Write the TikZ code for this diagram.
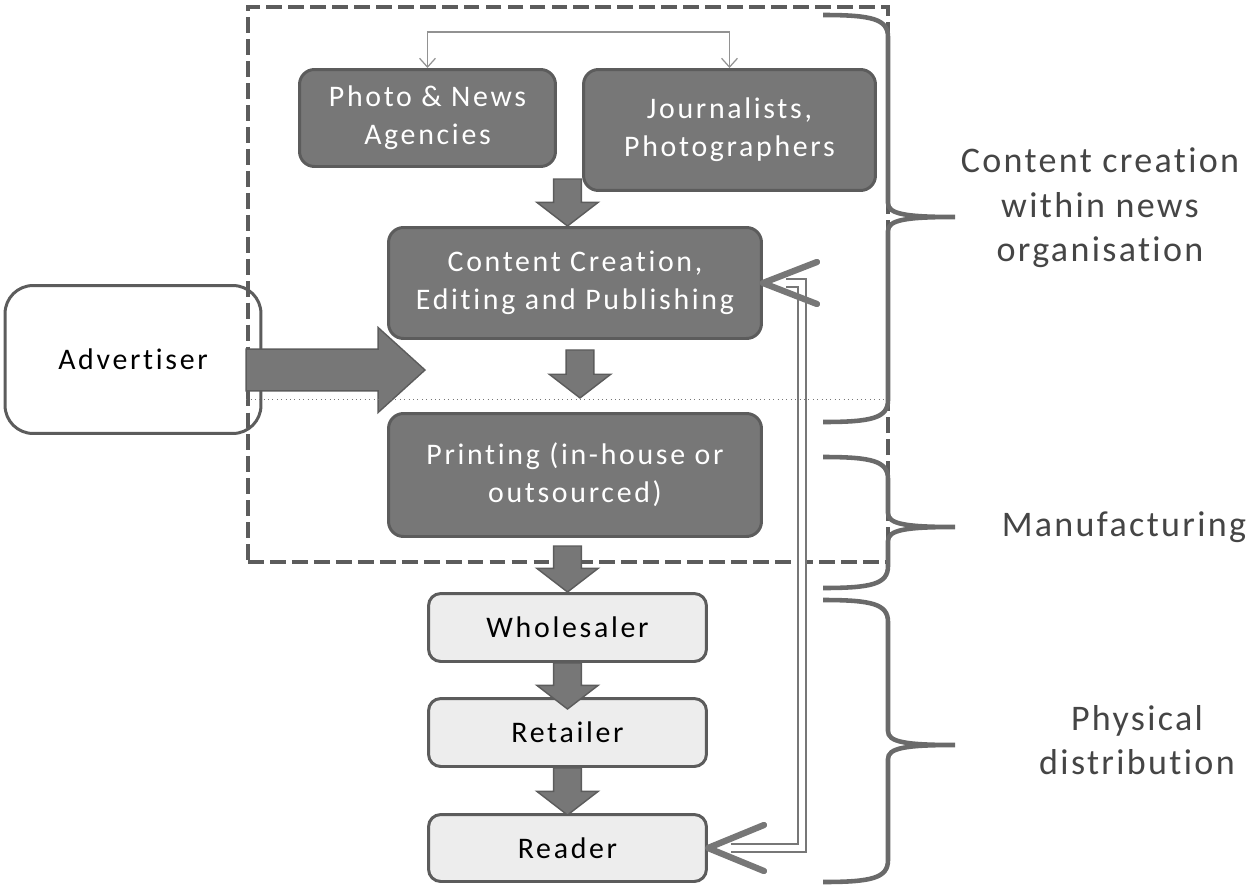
\documentclass[tikz,border=0pt]{standalone}
\usepackage{fontspec}
\usepackage{tikz}
\usetikzlibrary{arrows.meta}
\newfontfamily\boxfont[LetterSpace=9,Ligatures=NoCommon]{Carlito}
\newfontfamily\sidefont[LetterSpace=6.5,Ligatures=NoCommon]{Carlito}
\definecolor{boxdark}{HTML}{777777}
\definecolor{edgedark}{HTML}{5C5C5C}
\definecolor{boxlight}{HTML}{EDEDED}
\definecolor{linegray}{HTML}{6A6A6A}
\definecolor{sidetext}{HTML}{454545}
\tikzset{
  darkbox/.style={draw=edgedark, fill=boxdark, line width=1.7pt, rounded corners=8.5pt,
    text=white, align=center, inner sep=0pt, font=\boxfont\fontsize{17}{21.5}\selectfont},
  lightbox/.style={draw=edgedark, fill=boxlight, line width=1.7pt, rounded corners=7pt,
    align=center, inner sep=0pt, font=\boxfont\fontsize{17}{21.5}\selectfont},
  adbox/.style={lightbox, fill=white, rounded corners=16pt},
  framebox/.style={draw=edgedark, line width=2.2pt, dash pattern=on 9pt off 3.5pt, inner sep=0pt},
  fatarrow/.style={draw=edgedark, fill=boxdark, line width=0.8pt, line join=miter},
  thinarrow/.style={draw=boxdark!80, line width=0.7pt, {Straight Barb[length=5pt,width=9pt]}-{Straight Barb[length=5pt,width=9pt]}},
  feedback/.style={draw=boxdark, double=white, line width=1.5pt, double distance=3.2pt},
  barb/.style={draw=boxdark, line width=3.6pt, line cap=round, line join=round},
  dotline/.style={draw=boxdark, line width=0.5pt, dotted},
  bracestyle/.style={draw=linegray, line width=2.6pt},
  sidelabel/.style={align=center, text=sidetext, font=\sidefont\fontsize{20.5}{25.3}\selectfont}
}
% block arrow pointing down, shaft top #1, tip #2
\newcommand{\flowarrow}[2]{
\draw[fatarrow] ([xshift=-7.9pt]#1) -- ([xshift=7.9pt]#1) -- ([xshift=7.9pt,yshift=13.5pt]#2)
  -- ([xshift=17.5pt,yshift=13.5pt]#2) -- (#2) -- ([xshift=-17.5pt,yshift=13.5pt]#2)
  -- ([xshift=-7.9pt,yshift=13.5pt]#2) -- cycle;
}
% curly brace on the right, arms to the left
\newcommand{\secbrace}[3]{
\draw[bracestyle] (823,#1) .. controls (872,#1) and (888,#1+4) .. (888,#1+22)
  -- (888,#2-14) .. controls (888,#2-3) and (905,#2) .. (955,#2)
  .. controls (905,#2) and (888,#2+3) .. (888,#2+14)
  -- (888,#3-22) .. controls (888,#3-4) and (872,#3) .. (823,#3);
}

\begin{document}
\begin{tikzpicture}[x=0.02cm, y=-0.02cm]
\useasboundingbox (0,0) rectangle (1258,886);

\node[adbox, minimum width=5.12cm, minimum height=2.96cm] (advertiser) at (133,359.5) {Advertiser};
\node[framebox, minimum width=12.8cm, minimum height=11.1cm] (frame) at (568,284.5) {};

\node[darkbox, minimum width=5.12cm, minimum height=1.94cm] (photo) at (427.5,118) {Photo \& News\\Agencies};
\node[darkbox, minimum width=5.84cm, minimum height=2.42cm] (journ) at (729.5,130) {Journalists,\\Photographers};
\node[darkbox, minimum width=7.46cm, minimum height=2.22cm] (content) at (575,283) {Content Creation,\\Editing and Publishing};
\node[darkbox, minimum width=7.46cm, minimum height=2.46cm] (printing) at (575,475) {Printing (in-house or\\outsourced)};
\node[lightbox, minimum width=5.56cm, minimum height=1.36cm] (wholesaler) at (567.5,627.5) {Wholesaler};
\node[lightbox, minimum width=5.56cm, minimum height=1.36cm] (retailer) at (567.5,732.5) {Retailer};
\node[lightbox, minimum width=5.56cm, minimum height=1.34cm] (reader) at (567.5,848) {Reader};

\draw[thinarrow] (photo.north) -- ++(0,-36) -| (journ.north);

% block arrows
\path (wholesaler.north |- content.north) coordinate (t1) ++(0,-47) coordinate (s1);
\path (content.south) ++(5,10) coordinate (s2) ++(0,48) coordinate (t2);
\path (wholesaler.north) coordinate (t3) ++(0,-46) coordinate (s3);
\path (wholesaler.south) coordinate (s4) (retailer.north) ++(0,12) coordinate (t4);
\path (retailer.south) coordinate (s5) (reader.north) ++(0,2) coordinate (t5);
\flowarrow{s1}{t1}
\flowarrow{s2}{t2}
\flowarrow{s3}{t3}
\flowarrow{s4}{t4}
\flowarrow{s5}{t5}

\coordinate (adtip) at (425,370);
\coordinate (adbase) at (frame.west |- adtip);
\draw[fatarrow] ([yshift=11.9pt]adbase) -- ([xshift=-26.7pt,yshift=11.9pt]adtip)
  -- ([xshift=-26.7pt,yshift=24.2pt]adtip) -- (adtip) -- ([xshift=-26.7pt,yshift=-24.2pt]adtip)
  -- ([xshift=-26.7pt,yshift=-11.9pt]adtip) -- ([yshift=-11.9pt]adbase) -- cycle;

% feedback from reader
\draw[feedback, shorten <=13pt, shorten >=13pt] (reader.east) -- ++(94,0) |- (content.east);
\draw[barb] ([shift={(56,-23)}]reader.east) -- (reader.east) -- ([shift={(56,23)}]reader.east);
\draw[barb] ([shift={(54,-21)}]content.east) -- (content.east) -- ([shift={(54,21)}]content.east);

\coordinate (cut) at (0,399);
\draw[dotline] (frame.west |- cut) -- (frame.east |- cut);

\secbrace{15}{217}{422}
\secbrace{457}{527}{588}
\secbrace{600}{745}{882}

\node[sidelabel] (lab1) at (1100,208) {Content creation\\within news\\organisation};
\node[sidelabel] (lab2) at (1124,527) {Manufacturing};
\node[sidelabel] (lab3) at (1137,740) {Physical\\distribution};
\end{tikzpicture}
\end{document}
